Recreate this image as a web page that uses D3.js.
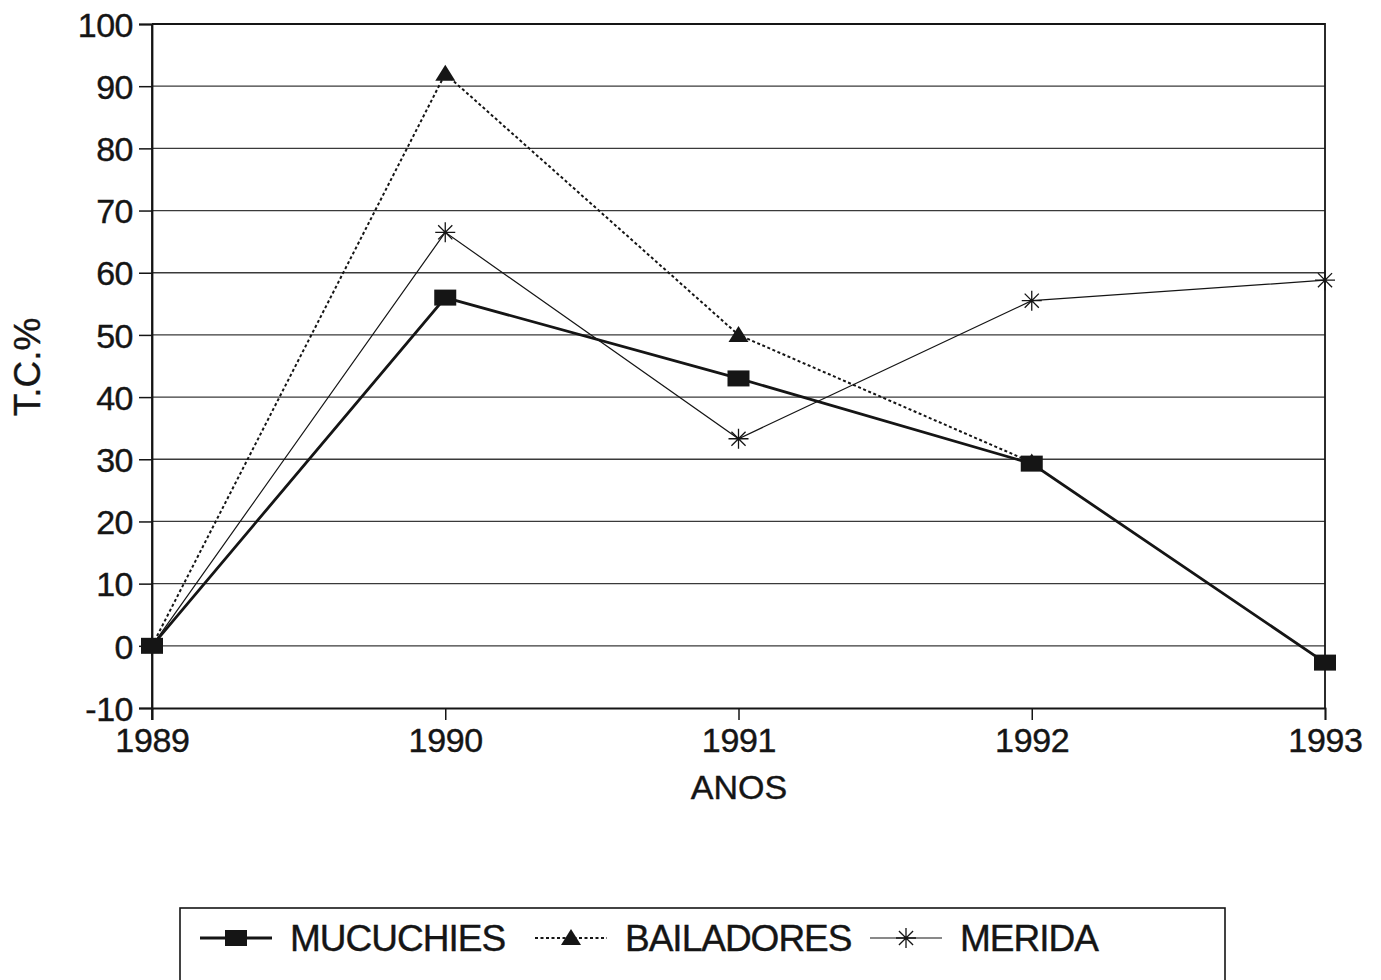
<!DOCTYPE html>
<html>
<head>
<meta charset="utf-8">
<script src="https://cdn.jsdelivr.net/npm/d3@7"></script>
<style>
  body { margin: 0; background: #fff; }
  svg { display: block; }
  text { font-family: "Liberation Sans", Arial, sans-serif; fill: #151515; stroke: #151515; stroke-width: 0.4px; }
</style>
</head>
<body>
<svg id="chart"></svg>
<script>
const years = [1989, 1990, 1991, 1992, 1993];
const mucuchies = [0, 56, 43, 29.3, -2.7];
const bailadores = [0, 92, 50, 29.5, null];
const merida = [0, 66.5, 33.3, 55.5, 58.8];
const seriesNames = ["MUCUCHIES", "BAILADORES", "MERIDA"];
const yTicks = [-10, 0, 10, 20, 30, 40, 50, 60, 70, 80, 90, 100];

const width = 1381;
const height = 980;
const ink = "#151515";

const svg = d3.select("#chart").attr("width", width).attr("height", height);

const x = d3.scaleLinear().domain([1989, 1993]).range([152, 1325]);
const y = d3.scaleLinear().domain([-10, 100]).range([708, 24]);

// gridlines
svg.append("g")
  .selectAll("line")
  .data(yTicks.filter((d) => d > -10 && d < 100))
  .join("line")
  .attr("x1", x(1989))
  .attr("x2", x(1993))
  .attr("y1", (d) => y(d))
  .attr("y2", (d) => y(d))
  .attr("stroke", "#3a3a3a")
  .attr("stroke-width", 1.3);

// frame: top and right
svg.append("path")
  .attr("d", `M${x(1989)},${y(100)}H${x(1993)}V${y(-10)}`)
  .attr("fill", "none")
  .attr("stroke", ink)
  .attr("stroke-width", 1.8);

// y axis
const yAxis = svg.append("g")
  .attr("transform", `translate(${x(1989)},0)`)
  .call(d3.axisLeft(y).tickValues(yTicks).tickFormat((d) => String(d)).tickSize(13).tickPadding(6));
yAxis.selectAll("text")
  .attr("font-size", 34)
  .attr("letter-spacing", -0.5)
  .attr("dy", "0.36em");

// x axis
const xAxis = svg.append("g")
  .attr("transform", `translate(0,${y(-10)})`)
  .call(d3.axisBottom(x).tickValues(years).tickFormat((d) => String(d)).tickSize(12).tickPadding(8));
xAxis.selectAll("text")
  .attr("font-size", 34)
  .attr("letter-spacing", -0.3);

[yAxis, xAxis].forEach((a) => {
  a.select(".domain").attr("stroke", ink).attr("stroke-width", 1.8);
  a.selectAll(".tick line").attr("stroke", ink).attr("stroke-width", 1.5);
  a.selectAll("text").style("fill", ink);
});
// extend left axis down to the 1989 tick
svg.append("line")
  .attr("x1", x(1989)).attr("x2", x(1989))
  .attr("y1", y(100)).attr("y2", y(-10) + 12)
  .attr("stroke", ink).attr("stroke-width", 1.8);

svg.append("text")
  .attr("x", 739)
  .attr("y", 799)
  .attr("text-anchor", "middle")
  .attr("font-size", 34)
  .text("ANOS");

svg.append("text")
  .attr("transform", "translate(40,367) rotate(-90)")
  .attr("text-anchor", "middle")
  .attr("font-size", 37)
  .text("T.C.%");

// series
const styles = [
  { values: mucuchies, width: 2.8, dash: null, marker: "square" },
  { values: bailadores, width: 2, dash: "3,2.5", marker: "triangle" },
  { values: merida, width: 1.2, dash: null, marker: "star" },
];

const line = d3.line()
  .defined((d) => d[1] != null)
  .x((d) => x(d[0]))
  .y((d) => y(d[1]));

const starPath = (r) => {
  let p = "";
  for (let i = 0; i < 4; i++) {
    const a = (i * Math.PI) / 4;
    const dx = Math.cos(a) * r, dy = Math.sin(a) * r;
    p += `M${-dx},${-dy}L${dx},${dy}`;
  }
  return p;
};

const drawMarker = (g, type, cx, cy) => {
  if (type === "square") {
    g.append("rect")
      .attr("x", cx - 11).attr("y", cy - 8)
      .attr("width", 22).attr("height", 16)
      .attr("fill", ink);
  } else if (type === "triangle") {
    g.append("path")
      .attr("d", `M${cx},${cy - 9}L${cx + 10},${cy + 7}L${cx - 10},${cy + 7}Z`)
      .attr("fill", ink);
  } else {
    g.append("path")
      .attr("transform", `translate(${cx},${cy})`)
      .attr("d", starPath(10))
      .attr("stroke", ink)
      .attr("stroke-width", 1.3)
      .attr("fill", "none");
  }
};

const drawOrder = [1, 2, 0];
drawOrder.forEach((i) => {
  const s = styles[i];
  const pts = years.map((yr, k) => [yr, s.values[k]]);
  const g = svg.append("g");
  g.append("path")
    .datum(pts)
    .attr("d", line)
    .attr("fill", "none")
    .attr("stroke", ink)
    .attr("stroke-width", s.width)
    .attr("stroke-dasharray", s.dash);
  pts.filter((d) => d[1] != null).forEach((d) => drawMarker(g, s.marker, x(d[0]), y(d[1])));
});

// legend
const legend = svg.append("g");
legend.append("rect")
  .attr("x", 180).attr("y", 908)
  .attr("width", 1045).attr("height", 100)
  .attr("fill", "none")
  .attr("stroke", ink)
  .attr("stroke-width", 1.6);

const legendX = [200, 535, 870];
const textX = [290, 625, 960];
seriesNames.forEach((name, i) => {
  const s = styles[i];
  const g = legend.append("g");
  g.append("line")
    .attr("x1", legendX[i]).attr("x2", legendX[i] + 72)
    .attr("y1", 938).attr("y2", 938)
    .attr("stroke", ink)
    .attr("stroke-width", s.width)
    .attr("stroke-dasharray", s.dash);
  drawMarker(g, s.marker, legendX[i] + 36, 938);
  g.append("text")
    .attr("x", textX[i])
    .attr("y", 951)
    .attr("font-size", 37)
    .attr("letter-spacing", -1)
    .text(name);
});
</script>
</body>
</html>
